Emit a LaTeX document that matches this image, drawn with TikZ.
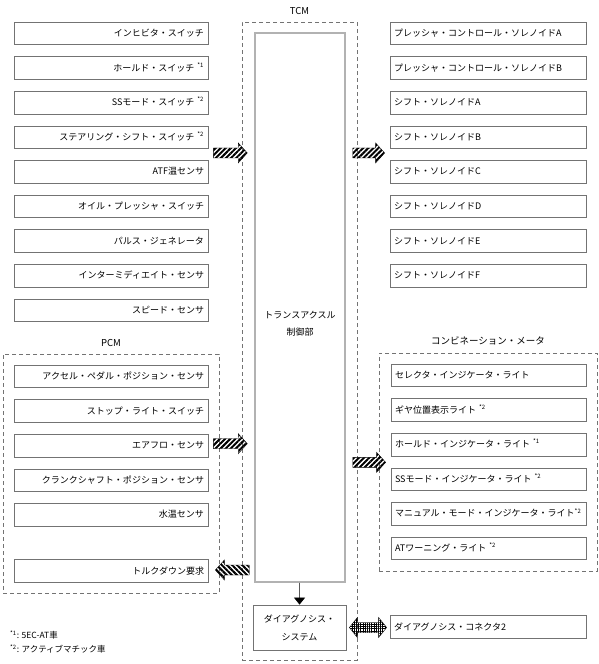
\documentclass[tikz,border=0pt]{standalone}
\usepackage{fontspec}
\setmainfont{Noto Sans CJK JP}
\usetikzlibrary{arrows.meta, positioning, calc, patterns.meta}

\begin{document}
\begin{tikzpicture}[
  x=1pt, y=-1pt,
  node distance=11.3pt,
  font=\fontsize{9}{11}\selectfont,
  inbox/.style={draw=black!55, line width=0.8pt, text width=186pt, inner xsep=4pt, inner ysep=0pt,
    minimum height=22.5pt, text height=8pt, text depth=2pt, align=right},
  outbox/.style={inbox, text width=188pt, align=left},
  group/.style={draw=black!55, dash pattern=on 4pt off 3pt, line width=0.6pt},
  grouplabel/.style={font=\fontsize{9.5}{11}\selectfont, inner sep=0pt, label distance=7pt},
  hatch/.style={draw=black, line width=0.4pt, pattern={Lines[angle=45,distance=3.6pt,line width=2pt]}},
  rarrow/.style={hatch, to path={let \p1=(\tikztostart), \p2=(\tikztotarget) in
    (\x1,\y1+5pt) -- (\x2-9pt,\y1+5pt) -- (\x2-9pt,\y1+10pt) -- (\x2,\y1)
    -- (\x2-9pt,\y1-10pt) -- (\x2-9pt,\y1-5pt) -- (\x1,\y1-5pt) -- cycle}},
  larrow/.style={hatch, pattern={Lines[angle=-45,distance=3.6pt,line width=2pt]},
    to path={let \p1=(\tikztostart), \p2=(\tikztotarget) in
    (\x1,\y1+5pt) -- (\x2+9pt,\y1+5pt) -- (\x2+9pt,\y1+10pt) -- (\x2,\y1)
    -- (\x2+9pt,\y1-10pt) -- (\x2+9pt,\y1-5pt) -- (\x1,\y1-5pt) -- cycle}},
  darrow/.style={draw=black, line width=0.4pt, pattern={Hatch[distance=2.2pt,line width=0.7pt]},
    to path={let \p1=(\tikztostart), \p2=(\tikztotarget) in
    (\x1,\y1) -- (\x1+8pt,\y1+10pt) -- (\x1+8pt,\y1+5pt) -- (\x2-8pt,\y1+5pt) -- (\x2-8pt,\y1+10pt)
    -- (\x2,\y1) -- (\x2-8pt,\y1-10pt) -- (\x2-8pt,\y1-5pt) -- (\x1+8pt,\y1-5pt) -- (\x1+8pt,\y1-10pt) -- cycle}}
]
\useasboundingbox (0,0) rectangle (599,664);

% Groups
\node[group, minimum width=115pt, minimum height=638pt, label={[grouplabel]above:TCM}] (tcm) at (299.5,341) {};
\node[group, minimum width=216pt, minimum height=239pt, label={[grouplabel]above:PCM}] (pcm) at (111,473.5) {};
\node[group, minimum width=218pt, minimum height=218pt, label={[grouplabel]above:コンビネーション・メータ}] (meter) at (488,462) {};

% Inputs
\node[inbox] (in1) at (111,33.5) {インヒビタ・スイッチ};
\node[inbox, below=of in1] (in2) {ホールド・スイッチ\ \textsuperscript{*1}};
\node[inbox, below=of in2] (in3) {SSモード・スイッチ\ \textsuperscript{*2}};
\node[inbox, below=of in3] (in4) {ステアリング・シフト・スイッチ\ \textsuperscript{*2}};
\node[inbox, below=of in4] (in5) {ATF温センサ};
\node[inbox, below=of in5] (in6) {オイル・プレッシャ・スイッチ};
\node[inbox, below=of in6] (in7) {パルス・ジェネレータ};
\node[inbox, below=of in7] (in8) {インターミディエイト・センサ};
\node[inbox, below=of in8] (in9) {スピード・センサ};

% PCM
\node[inbox] (pin1) at (111,376.5) {アクセル・ペダル・ポジション・センサ};
\node[inbox, below=of pin1] (pin2) {ストップ・ライト・スイッチ};
\node[inbox, below=of pin2] (pin3) {エアフロ・センサ};
\node[inbox, below=of pin3] (pin4) {クランクシャフト・ポジション・センサ};
\node[inbox, below=of pin4] (pin5) {水温センサ};
\node[inbox] (torque) at (111,571) {トルクダウン要求};

% TCM
\node[draw=black!30, line width=1.5pt, minimum width=90pt, minimum height=549pt] (ctrl) at (300,307.5) {};
\node[align=center, font=\fontsize{9}{17}\selectfont] (ctrltext) at (300,324) {トランスアクスル\\制御部};
\node[draw=black!55, line width=0.8pt, minimum width=93pt, minimum height=45pt, align=center,
  font=\fontsize{9}{18}\selectfont] (diag) at (299.5,627.5) {ダイアグノシス・\\システム};

% Outputs
\node[outbox] (out1) at (488,33.5) {プレッシャ・コントロール・ソレノイドA};
\node[outbox, below=of out1] (out2) {プレッシャ・コントロール・ソレノイドB};
\node[outbox, below=of out2] (out3) {シフト・ソレノイドA};
\node[outbox, below=of out3] (out4) {シフト・ソレノイドB};
\node[outbox, below=of out4] (out5) {シフト・ソレノイドC};
\node[outbox, below=of out5] (out6) {シフト・ソレノイドD};
\node[outbox, below=of out6] (out7) {シフト・ソレノイドE};
\node[outbox, below=of out7] (out8) {シフト・ソレノイドF};

% Combination meter
\node[outbox, text width=187pt] (lamp1) at (488.5,375.5) {セレクタ・インジケータ・ライト};
\node[outbox, text width=187pt, below=of lamp1] (lamp2) {ギヤ位置表示ライト\ \textsuperscript{*2}};
\node[outbox, text width=187pt, below=of lamp2] (lamp3) {ホールド・インジケータ・ライト\ \textsuperscript{*1}};
\node[outbox, text width=187pt, below=of lamp3] (lamp4) {SSモード・インジケータ・ライト\ \textsuperscript{*2}};
\node[outbox, text width=187pt, below=of lamp4] (lamp5) {マニュアル・モード・インジケータ・ライト\textsuperscript{*2}};
\node[outbox, text width=187pt, below=of lamp5] (lamp6) {ATワーニング・ライト\ \textsuperscript{*2}};

\node[outbox] (conn) at (488,627) {ダイアグノシス・コネクタ2};

% Notes
\node[anchor=north west, align=left, inner sep=0pt, font=\fontsize{8.5}{14}\selectfont] (note) at (10,631)
  {\textsuperscript{*1}: 5EC-AT車\\\textsuperscript{*2}: アクティブマチック車};

% Arrows
\path[rarrow] ($(in4.south east)+(5,4)$) to ($(ctrl.west)+(-7,0)$);
\path[rarrow] ($(ctrl.east |- out4.south)+(7,4)$) to ($(out5.west)+(-5,0)$);
\path[rarrow] ($(pin3.east)+(5,-2)$) to ($(ctrl.west)+(-7,0)$);
\path[rarrow] ($(ctrl.east |- lamp3.south)+(7,6)$) to ($(lamp4.west)+(-5,0)$);
\path[larrow] ($(ctrl.west |- torque.east)+(-5,-1)$) to ($(torque.east)+(7,0)$);
\path[darrow] ($(diag.east)+(3,0)$) to ($(conn.west)+(-3,0)$);
\draw[-{Triangle[width=11pt,length=7pt]}, line width=0.6pt] (ctrl) -- (diag);

\end{tikzpicture}
\end{document}
